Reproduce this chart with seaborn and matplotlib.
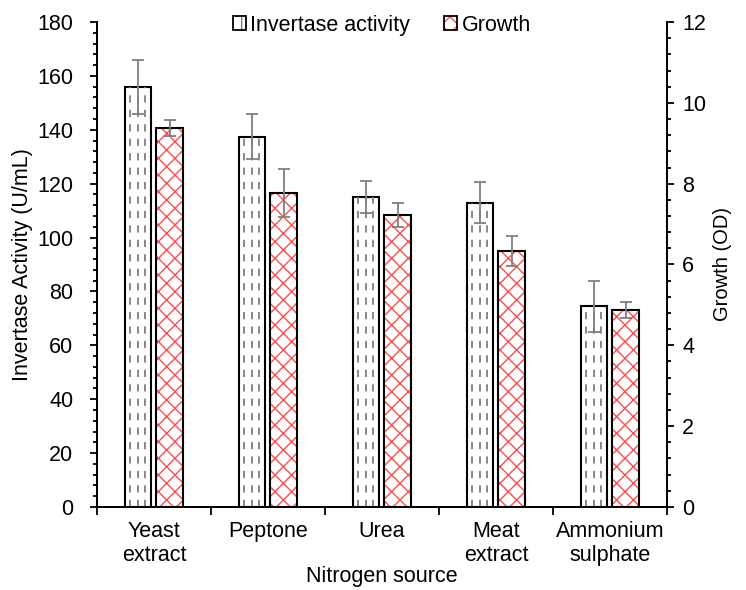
import numpy as np
import pandas as pd
import matplotlib
matplotlib.use("Agg")
import matplotlib.pyplot as plt
from matplotlib.patches import Patch
from matplotlib.legend_handler import HandlerTuple
from matplotlib.ticker import MultipleLocator, FixedLocator, NullFormatter
import seaborn as sns

sources = ["Yeast\nextract", "Peptone", "Urea", "Meat\nextract", "Ammonium\nsulphate"]
invertase = [156, 137.5, 115, 113, 74.5]
invertase_err = [10, 8.4, 6, 7.5, 9.5]
growth = [9.38, 7.77, 7.23, 6.33, 4.88]
growth_err = [0.2, 0.6, 0.3, 0.37, 0.2]
series = ["Invertase activity", "Growth"]

sns.set_style("white")
plt.rcParams["font.family"] = ["Liberation Sans", "DejaVu Sans"]
plt.rcParams["hatch.linewidth"] = 1.0
plt.rcParams["text.color"] = "black"
plt.rcParams["axes.labelcolor"] = "black"
plt.rcParams["xtick.color"] = "black"
plt.rcParams["ytick.color"] = "black"

# long tables, one per axis, with NaN for the other series so dodge stays aligned
df1 = pd.DataFrame({"source": sources * 2,
                    "series": [series[0]] * 5 + [series[1]] * 5,
                    "value": invertase + [np.nan] * 5})
df2 = pd.DataFrame({"source": sources * 2,
                    "series": [series[0]] * 5 + [series[1]] * 5,
                    "value": [np.nan] * 5 + growth})

fig = plt.figure(figsize=(7.46, 5.9), dpi=100)
ax1 = fig.add_axes([0.130, 0.1407, 0.764, 0.822])
ax2 = ax1.twinx()

sns.barplot(data=df1, x="source", y="value", hue="series", hue_order=series,
            order=sources, width=0.55, gap=0.16, errorbar=None, ax=ax1,
            palette=["white", "white"], edgecolor="black", linewidth=1.5,
            legend=False)
sns.barplot(data=df2, x="source", y="value", hue="series", hue_order=series,
            order=sources, width=0.55, gap=0.16, errorbar=None, ax=ax2,
            palette=["white", "white"], edgecolor="#ff4d4d", linewidth=0,
            legend=False)

# invertase bars: dashed grey lines inside + error bars
inv_bars = [p for p in ax1.patches if p.get_height() > 0]
inv_bars.sort(key=lambda p: p.get_x())
for p, e in zip(inv_bars, invertase_err):
    x0, w, h = p.get_x(), p.get_width(), p.get_height()
    for f in (0.2, 0.48, 0.76):
        ax1.vlines(x0 + w * f, 0, h, colors="#7f7f7f", linestyles=(0, (4, 4)),
                   linewidth=1.3, zorder=p.get_zorder() + 0.1)
    ax1.errorbar(x0 + w / 2, h, yerr=e, fmt="none", ecolor="#7f7f7f",
                 elinewidth=1.3, capsize=4, capthick=1.3, zorder=5)

# growth bars: red cross hatch, black outline
gr_bars = [p for p in ax2.patches if p.get_height() > 0]
gr_bars.sort(key=lambda p: p.get_x())
for p, e in zip(gr_bars, growth_err):
    p.set_hatch("xx")
    p.set_edgecolor("#ff4d4d")
    p.set_linewidth(0)
    x0, w, h = p.get_x(), p.get_width(), p.get_height()
    ax2.bar(x0, h, width=w, align="edge", fill=False, edgecolor="black",
            linewidth=1.5, zorder=p.get_zorder() + 0.1)
    ax2.errorbar(x0 + w / 2, h, yerr=e, fmt="none", ecolor="#7f7f7f",
                 elinewidth=1.3, capsize=4, capthick=1.3, zorder=5)

ax1.set_ylim(0, 180)
ax2.set_ylim(0, 12)
ax1.set_xlim(-0.5, 4.5)
ax1.yaxis.set_major_locator(MultipleLocator(20))
ax1.yaxis.set_minor_locator(MultipleLocator(4))
ax2.yaxis.set_major_locator(MultipleLocator(2))
ax2.yaxis.set_minor_locator(MultipleLocator(0.4))

# x ticks at category boundaries, labels at centers
ax1.xaxis.set_major_locator(FixedLocator(np.arange(-0.5, 5, 1)))
ax1.xaxis.set_major_formatter(NullFormatter())
ax1.xaxis.set_minor_locator(FixedLocator(np.arange(5)))
ax1.set_xticklabels(sources, minor=True)
ax1.tick_params(axis="x", which="major", direction="out", length=6, width=1.3,
                bottom=True)
ax1.tick_params(axis="x", which="minor", length=0, labelsize=15.5, pad=10)

for ax in (ax1, ax2):
    ax.tick_params(axis="y", which="major", direction="out", length=5, width=1.3,
                   labelsize=15.5, pad=6)
    ax.tick_params(axis="y", which="minor", direction="out", length=3, width=1.3)
    for s in ax.spines.values():
        s.set_color("black")
        s.set_linewidth(1.3)
    ax.spines["top"].set_visible(False)
ax1.tick_params(axis="y", which="both", left=True)
ax1.tick_params(axis="y", which="major", pad=12)
ax2.tick_params(axis="y", which="both", right=True)

ax1.set_xlabel("Nitrogen source", fontsize=15.5, labelpad=0)
ax1.set_ylabel("Invertase Activity (U/mL)", fontsize=15.5, labelpad=3)
ax2.set_ylabel("Growth (OD)", fontsize=14.5, labelpad=5)

outline = Patch(facecolor="none", edgecolor="black", linewidth=1.3)
inv_h = Patch(facecolor="white", edgecolor="#7f7f7f", hatch="|", linewidth=0)
gr_h = Patch(facecolor="white", edgecolor="#ff4d4d", hatch="xx", linewidth=0)
ax1.legend([(inv_h, outline), (gr_h, outline)], series, loc="upper center",
           bbox_to_anchor=(0.5, 1.055), ncol=2, frameon=False, fontsize=15.5,
           handlelength=0.6, handleheight=0.6, handletextpad=0.2,
           columnspacing=1.6, handler_map={tuple: HandlerTuple(ndivide=1, pad=0)})

plt.savefig("out.png", dpi=100)
